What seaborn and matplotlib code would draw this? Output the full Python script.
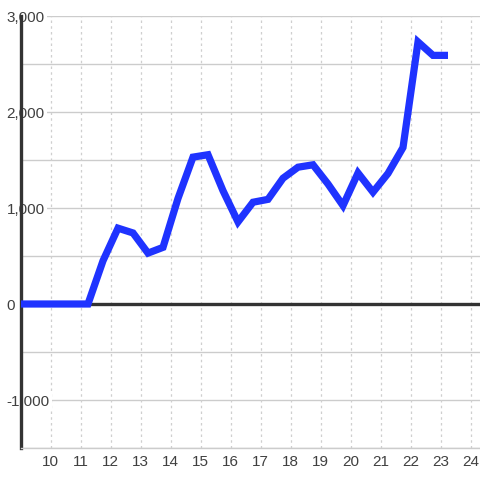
import matplotlib
matplotlib.use("Agg")
import matplotlib.pyplot as plt
import pandas as pd
import seaborn as sns

# ── Data ──────────────────────────────────────────────────────────────────────
x_vals = [8.75, 9.25, 9.75, 10.25, 10.75, 11.25, 11.75, 12.25, 12.75, 13.25,
          13.75, 14.25, 14.75, 15.25, 15.75, 16.25, 16.75, 17.25, 17.75, 18.25,
          18.75, 19.25, 19.75, 20.25, 20.75, 21.25, 21.75, 22.25, 22.75, 23.25]
y_vals = [0, 0, 0, 0, 0, 0, 450, 790, 740, 530,
          590, 1100, 1530, 1555, 1180, 855, 1060, 1090, 1310, 1425,
          1450, 1250, 1025, 1365, 1165, 1360, 1630, 2730, 2590, 2590]
x_ticks = list(range(10, 25))
y_ticks = [-1000, 0, 1000, 2000, 3000]
y_tick_labels = ["-1,000", "0", "1,000", "2,000", "3,000"]

df = pd.DataFrame({"x": x_vals, "y": y_vals})

# ── Style ─────────────────────────────────────────────────────────────────────
sns.set_style("white")
plt.rcParams["font.family"] = ["Liberation Sans", "DejaVu Sans"]
plt.rcParams["axes.unicode_minus"] = False

fig = plt.figure(figsize=(4.8, 4.8), dpi=100)
ax = fig.add_axes([20.5 / 480, 32 / 480, (480 - 20.5) / 480, 432 / 480])

# grid
for yv in range(-1500, 3001, 500):
    ax.axhline(yv, color="#cccccc", lw=1, zorder=0)
for xv in x_ticks:
    ax.axvline(xv, color="#cfcfcf", lw=0.9, ls=(0, (2, 2.6)), zorder=0)
ax.axhline(0, color="#333333", lw=2.4, zorder=1)

sns.lineplot(data=df, x="x", y="y", ax=ax, color="#1f33ff", lw=5.2,
             solid_joinstyle="miter", solid_capstyle="butt", zorder=3)

ax.set_xlim(9, 9 + (480 - 20.5) / 30)
ax.set_ylim(-1500, 3000)
ax.set_xlabel("")
ax.set_ylabel("")

ax.set_xticks(x_ticks)
ax.set_xticklabels([str(t) for t in x_ticks])
ax.set_yticks(y_ticks)
ax.set_yticklabels(y_tick_labels)
ax.tick_params(axis="x", length=0, pad=5, labelsize=11, labelcolor="#404040")
ax.tick_params(axis="y", length=0, pad=10, labelsize=11, labelcolor="#404040")
for lbl in ax.get_yticklabels():
    lbl.set_horizontalalignment("left")
    lbl.set_bbox(dict(facecolor="white", edgecolor="none", pad=1.5))

for side in ["top", "right"]:
    ax.spines[side].set_visible(False)
ax.spines["left"].set_color("#333333")
ax.spines["left"].set_linewidth(2.4)
ax.spines["bottom"].set_color("#cccccc")
ax.spines["bottom"].set_linewidth(1)

fig.savefig("out.png", dpi=100)
